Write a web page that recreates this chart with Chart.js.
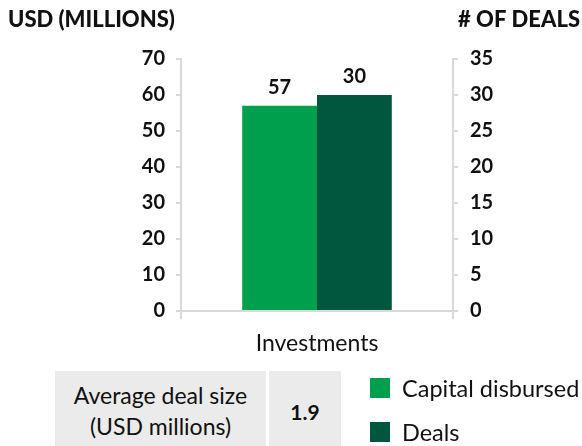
<!DOCTYPE html>
<html>
<head>
<meta charset="utf-8">
<script src="https://cdn.jsdelivr.net/npm/chart.js@4.4.1/dist/chart.umd.min.js"></script>
<style>
  html, body { margin: 0; padding: 0; background: #fff; }
  #wrap { position: relative; width: 582px; height: 446px; overflow: hidden; font-family: Lato, sans-serif; color: #111; }
  #chart { position: absolute; left: 0; top: 0; }
  .stat { position: absolute; top: 371px; height: 80px; background: #ebebeb; display: flex; align-items: center; justify-content: center; text-align: center; }
  #statLabel { left: 55px; width: 211px; font-size: 23px; line-height: 31px; }
  #statValue { left: 269px; width: 72px; font-size: 21px; font-weight: 700; }
  .item { position: absolute; left: 370px; height: 44px; display: flex; align-items: center; font-size: 23.5px; white-space: nowrap; }
  .swatch { width: 20px; height: 20px; margin-right: 12px; flex: none; }
</style>
</head>
<body>
<div id="wrap">
  <canvas id="chart" width="582" height="446"></canvas>
  <div class="stat" id="statLabel">Average deal size<br>(USD millions)</div>
  <div class="stat" id="statValue"></div>
  <div id="legend"></div>
</div>
<script>
// Investment totals
const categories = ['Investments'];
const capitalDisbursed = [57];   // USD millions
const dealCount = [30];          // number of deals
const avgDealSize = 1.9;         // USD millions per deal

// Axis ranges
const usdTicks = [0, 10, 20, 30, 40, 50, 60, 70];
const dealTicks = [0, 5, 10, 15, 20, 25, 30, 35];

const seriesNames = ['Capital disbursed', 'Deals'];
const seriesColors = ['#009f4e', '#00573e'];

const axisColor = '#d9d9d9';
const textColor = '#111111';
const FONT = 'Lato, sans-serif';

// Axis titles above each y axis
const axisTitles = {
  id: 'axisTitles',
  afterDraw(chart) {
    const c = chart.ctx;
    c.save();
    c.fillStyle = textColor;
    c.font = `900 22px ${FONT}`;
    c.textBaseline = 'alphabetic';
    c.textAlign = 'left';
    c.fillText('USD (MILLIONS)', 8, 27);
    c.textAlign = 'right';
    c.fillText('# OF DEALS', 580, 27);
    c.restore();
  }
};

// Value labels above the bars
const valueLabels = {
  id: 'valueLabels',
  afterDatasetsDraw(chart) {
    const c = chart.ctx;
    c.save();
    c.fillStyle = textColor;
    c.font = `bold 20px ${FONT}`;
    c.textAlign = 'center';
    c.textBaseline = 'alphabetic';
    chart.data.datasets.forEach((ds, i) => {
      chart.getDatasetMeta(i).data.forEach((bar, j) => {
        c.fillText(String(ds.data[j]), bar.x, bar.y - 12);
      });
    });
    c.restore();
  }
};

const tickFont = { family: FONT, size: 20, weight: 'bold' };

const chart = new Chart(document.getElementById('chart'), {
  type: 'bar',
  data: {
    labels: categories,
    datasets: [
      { label: seriesNames[0], data: capitalDisbursed, backgroundColor: seriesColors[0], yAxisID: 'usd' },
      { label: seriesNames[1], data: dealCount, backgroundColor: seriesColors[1], yAxisID: 'deals' }
    ]
  },
  options: {
    responsive: false,
    animation: false,
    layout: { padding: { top: 59, bottom: 85, left: 0, right: 0 } },
    datasets: { bar: { categoryPercentage: 0.55, barPercentage: 1.0 } },
    plugins: { legend: { display: false }, tooltip: { enabled: false } },
    scales: {
      x: {
        grid: { display: true, drawOnChartArea: false, drawTicks: true, tickLength: 8, color: axisColor, lineWidth: 2, offset: true },
        border: { display: true, color: axisColor, width: 2 },
        ticks: { font: { family: FONT, size: 23 }, color: textColor, padding: 11 },
        afterFit(s) { s.height = 50; }
      },
      usd: {
        position: 'left',
        min: usdTicks[0], max: usdTicks[usdTicks.length - 1],
        afterBuildTicks(s) { s.ticks = usdTicks.map(v => ({ value: v })); },
        ticks: { padding: 11, font: tickFont, color: textColor },
        grid: { drawOnChartArea: false, tickLength: 5, color: axisColor, lineWidth: 2 },
        border: { display: true, color: axisColor, width: 2 },
        afterFit(s) { s.width = 181; }
      },
      deals: {
        position: 'right',
        min: dealTicks[0], max: dealTicks[dealTicks.length - 1],
        afterBuildTicks(s) { s.ticks = dealTicks.map(v => ({ value: v })); },
        ticks: { padding: 12, font: tickFont, color: textColor },
        grid: { drawOnChartArea: false, tickLength: 5, color: axisColor, lineWidth: 2 },
        border: { display: true, color: axisColor, width: 2 },
        afterFit(s) { s.width = 129; }
      }
    }
  },
  plugins: [axisTitles, valueLabels]
});

document.getElementById('statValue').textContent = avgDealSize.toFixed(1);

// Legend built from the chart's datasets
const legend = document.getElementById('legend');
chart.data.datasets.forEach((ds, i) => {
  const item = document.createElement('div');
  item.className = 'item';
  item.style.top = (366 + i * 44) + 'px';
  const sw = document.createElement('span');
  sw.className = 'swatch';
  sw.style.background = ds.backgroundColor;
  item.appendChild(sw);
  item.appendChild(document.createTextNode(ds.label));
  legend.appendChild(item);
});
</script>
</body>
</html>
